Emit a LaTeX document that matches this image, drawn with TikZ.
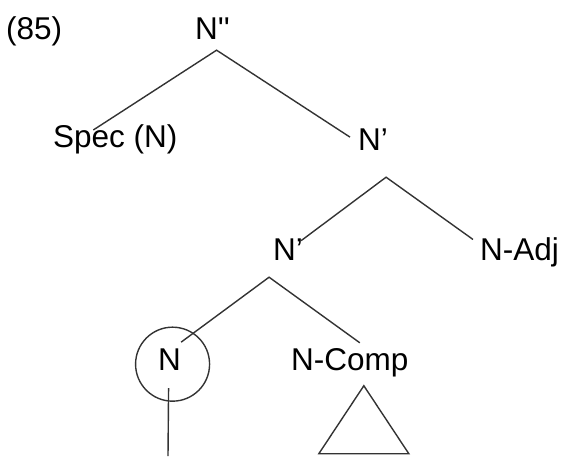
\documentclass[tikz,border=0pt]{standalone}
\usepackage{fontspec}
\setmainfont{Liberation Sans}
\usetikzlibrary{positioning}

\begin{document}
\begin{tikzpicture}[x=1pt, y=1pt,
  lbl/.style={inner sep=0pt, anchor=base west, font=\fontsize{31.5}{38}\selectfont},
  branch/.style={draw=black!80, line width=1.4pt}]
\useasboundingbox (0,0) rectangle (561,456);

% labels
\node[lbl] (num)   at (6,416)   {(85)};
\node[lbl] (nbb)   at (195,416) {N\textquotesingle\textquotesingle};
\node[lbl] (spec)  at (53,309)  {Spec (N)};
\node[lbl] (nb1)   at (358,306) {N’};
\node[lbl] (nb2)   at (273,196) {N’};
\node[lbl] (nadj)  at (480,196) {N-Adj};
\node[lbl] (nhead) at (158,86)  {N};
\node[lbl] (ncomp) at (291,86)  {N-Comp};
\node[circle, branch, minimum size=74pt, inner sep=0pt] (ring)
  at ([shift={(3,-5)}]nhead.center) {};

% branching points
\coordinate (a0) at ([shift={(4,-10)}]nbb.south);
\coordinate (a1) at ([shift={(13,-27)}]nb1.south);
\coordinate (a2) at ([shift={(-19,-17)}]nb2.south);
\coordinate (stem) at (168,0);

\draw[branch] ([shift={(-22,-6)}]spec.north) -- (a0) -- ([shift={(-8,-9)}]nb1.north west);
\draw[branch] ([shift={(-2,-2.5)}]nb2.north east) -- (a1) -- ([shift={(-7,-2.5)}]nadj.north west);
\draw[branch] ([shift={(0,6)}]nhead.north east) -- (a2) -- ([shift={(10,5)}]ncomp.north);
\draw[branch] ([shift={(-1,-18)}]nhead.south) -- (stem);

% complement triangle
\draw[branch] ([shift={(14,-9)}]ncomp.south) -- ++(-45,-68) -- ++(90,0) -- cycle;
\end{tikzpicture}
\end{document}
